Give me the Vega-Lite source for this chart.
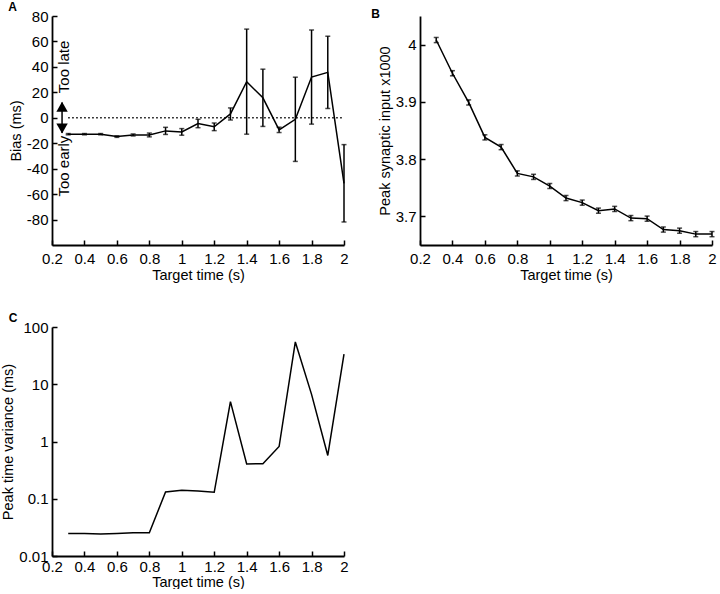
{
  "$schema": "https://vega.github.io/schema/vega-lite/v6.json",
  "padding": {"left": 0, "top": 1, "right": 2, "bottom": 0},
  "background": "white",
  "config": {
    "font": "Liberation Sans",
    "view": {"stroke": null},
    "axis": {
      "grid": false,
      "domainColor": "black",
      "domainWidth": 1.8,
      "tickColor": "black",
      "tickWidth": 1.5,
      "tickSize": -5,
      "labelColor": "black",
      "titleColor": "black",
      "labelFontSize": 15,
      "titleFontSize": 14.5,
      "titleFontWeight": "normal",
      "labelFlush": false,
      "labelOverlap": false,
      "labelExpr": "'' + datum.value"
    },
    "axisX": {"labelPadding": 11, "titlePadding": 2},
    "axisY": {"labelPadding": 9, "titlePadding": 3},
    "title": {"fontSize": 12, "fontWeight": "bold", "anchor": "start", "frame": "bounds", "offset": -5, "color": "black"}
  },
  "datasets": {
    "bias": [
      {"t": 0.3, "v": -12.9, "e": 0.5},
      {"t": 0.4, "v": -12.9, "e": 0.5},
      {"t": 0.5, "v": -12.9, "e": 0.5},
      {"t": 0.6, "v": -14.8, "e": 0.6},
      {"t": 0.7, "v": -13.5, "e": 0.8},
      {"t": 0.8, "v": -13.5, "e": 1.5},
      {"t": 0.9, "v": -10.3, "e": 2.8},
      {"t": 1.0, "v": -11.1, "e": 2.6},
      {"t": 1.1, "v": -4.5, "e": 3.3},
      {"t": 1.2, "v": -7.1, "e": 3.0},
      {"t": 1.3, "v": 3.0, "e": 4.75},
      {"t": 1.4, "v": 28.4, "e": 41.3},
      {"t": 1.5, "v": 15.7, "e": 22.5},
      {"t": 1.6, "v": -9.5, "e": 2.1},
      {"t": 1.7, "v": -1.2, "e": 33.1},
      {"t": 1.8, "v": 32.0, "e": 37.0},
      {"t": 1.9, "v": 35.7, "e": 28.4},
      {"t": 2.0, "v": -51.5, "e": 30.4}
    ],
    "zero": [{"t": 0.3, "t2": 2.0, "v": 0}],
    "arrowLine": [{"t": 0.262, "v": 12, "v2": -12}],
    "arrowHeads": [
      {"t": 0.262, "v": 8.7, "dir": "up"},
      {"t": 0.262, "v": -8.4, "dir": "down"}
    ],
    "arrowText": [
      {"t": 0.273, "v": 40, "label": "Too late"},
      {"t": 0.273, "v": -38, "label": "Too early"}
    ],
    "peak": [
      {"t": 0.3, "v": 4.008, "e": 0.0045},
      {"t": 0.4, "v": 3.950, "e": 0.0045},
      {"t": 0.5, "v": 3.899, "e": 0.0045},
      {"t": 0.6, "v": 3.838, "e": 0.0045},
      {"t": 0.7, "v": 3.821, "e": 0.0045},
      {"t": 0.8, "v": 3.775, "e": 0.0045},
      {"t": 0.9, "v": 3.769, "e": 0.0045},
      {"t": 1.0, "v": 3.753, "e": 0.0045},
      {"t": 1.1, "v": 3.732, "e": 0.0045},
      {"t": 1.2, "v": 3.724, "e": 0.0045},
      {"t": 1.3, "v": 3.710, "e": 0.0045},
      {"t": 1.4, "v": 3.713, "e": 0.0045},
      {"t": 1.5, "v": 3.697, "e": 0.0045},
      {"t": 1.6, "v": 3.696, "e": 0.0045},
      {"t": 1.7, "v": 3.677, "e": 0.0045},
      {"t": 1.8, "v": 3.675, "e": 0.0045},
      {"t": 1.9, "v": 3.669, "e": 0.0045},
      {"t": 2.0, "v": 3.669, "e": 0.0045}
    ],
    "variance": [
      {"t": 0.3, "v": 0.0248},
      {"t": 0.4, "v": 0.0248},
      {"t": 0.5, "v": 0.0242},
      {"t": 0.6, "v": 0.0248},
      {"t": 0.7, "v": 0.0254},
      {"t": 0.8, "v": 0.0254},
      {"t": 0.9, "v": 0.1315},
      {"t": 1.0, "v": 0.1406},
      {"t": 1.1, "v": 0.136},
      {"t": 1.2, "v": 0.1297},
      {"t": 1.3, "v": 4.96},
      {"t": 1.4, "v": 0.404},
      {"t": 1.5, "v": 0.41},
      {"t": 1.6, "v": 0.818},
      {"t": 1.7, "v": 54.8},
      {"t": 1.8, "v": 6.65},
      {"t": 1.9, "v": 0.571},
      {"t": 2.0, "v": 33.5}
    ]
  },
  "vconcat": [
    {
      "hconcat": [
        {
          "title": "A",
          "width": 292,
          "height": 229,
          "encoding": {
            "x": {
              "field": "t", "type": "quantitative", "title": "Target time (s)",
              "scale": {"domain": [0.2, 2], "nice": false, "zero": false},
              "axis": {"values": [0.2, 0.4, 0.6, 0.8, 1, 1.2, 1.4, 1.6, 1.8, 2], "labelOverlap": false}
            },
            "y": {
              "field": "v", "type": "quantitative", "title": "Bias (ms)",
              "scale": {"domain": [-100, 80], "nice": false, "zero": false},
              "axis": {"values": [-80, -60, -40, -20, 0, 20, 40, 60, 80], "labelOverlap": false}
            }
          },
          "layer": [
            {
              "data": {"name": "bias"},
              "mark": {"type": "line", "color": "black", "strokeWidth": 1.5}
            },
            {
              "data": {"name": "bias"},
              "mark": {"type": "errorbar", "color": "black", "thickness": 1.5, "ticks": {"size": 5}},
              "encoding": {
                "yError": {"field": "e"}
              }
            },
            {
              "data": {"name": "zero"},
              "mark": {"type": "rule", "color": "black", "strokeWidth": 1.5, "strokeDash": [1.5, 2.5]},
              "encoding": {
                "x2": {"field": "t2"}
              }
            },
            {
              "data": {"name": "arrowLine"},
              "mark": {"type": "rule", "color": "black", "strokeWidth": 1.5},
              "encoding": {
                "y2": {"field": "v2"}
              }
            },
            {
              "data": {"name": "arrowHeads"},
              "mark": {"type": "point", "filled": true, "color": "black", "opacity": 1, "size": 130},
              "encoding": {
                "shape": {
                  "field": "dir", "type": "nominal", "legend": null,
                  "scale": {"domain": ["up", "down"], "range": ["triangle-up", "triangle-down"]}
                }
              }
            },
            {
              "data": {"name": "arrowText"},
              "mark": {"type": "text", "angle": 270, "fontSize": 15, "color": "black", "align": "center", "baseline": "middle"},
              "encoding": {
                "text": {"field": "label"}
              }
            }
          ]
        },
        {
          "title": {"text": "B", "dx": -6},
          "width": 292,
          "height": 229,
          "data": {"name": "peak"},
          "encoding": {
            "x": {
              "field": "t", "type": "quantitative", "title": "Target time (s)",
              "scale": {"domain": [0.2, 2], "nice": false, "zero": false},
              "axis": {"values": [0.2, 0.4, 0.6, 0.8, 1, 1.2, 1.4, 1.6, 1.8, 2], "labelOverlap": false}
            },
            "y": {
              "field": "v", "type": "quantitative", "title": "Peak synaptic input x1000",
              "scale": {"domain": [3.65, 4.05], "nice": false, "zero": false},
              "axis": {"values": [3.7, 3.8, 3.9, 4], "labelOverlap": false}
            }
          },
          "layer": [
            {
              "mark": {"type": "line", "color": "black", "strokeWidth": 1.5}
            },
            {
              "mark": {"type": "errorbar", "color": "black", "thickness": 1.5, "ticks": {"size": 5}},
              "encoding": {
                "yError": {"field": "e"}
              }
            }
          ]
        }
      ],
      "spacing": 22
    },
    {
      "title": {"text": "C", "dx": 8},
      "width": 292,
      "height": 229,
      "data": {"name": "variance"},
      "mark": {"type": "line", "color": "black", "strokeWidth": 1.5},
      "encoding": {
        "x": {
          "field": "t", "type": "quantitative", "title": "Target time (s)",
          "scale": {"domain": [0.2, 2], "nice": false, "zero": false},
          "axis": {"values": [0.2, 0.4, 0.6, 0.8, 1, 1.2, 1.4, 1.6, 1.8, 2], "labelPadding": 8, "titlePadding": 1}
        },
        "y": {
          "field": "v", "type": "quantitative", "title": "Peak time variance (ms)",
          "scale": {"type": "log", "domain": [0.01, 100], "nice": false},
          "axis": {"values": [0.01, 0.1, 1, 10, 100]}
        }
      }
    }
  ],
  "spacing": 30
}
